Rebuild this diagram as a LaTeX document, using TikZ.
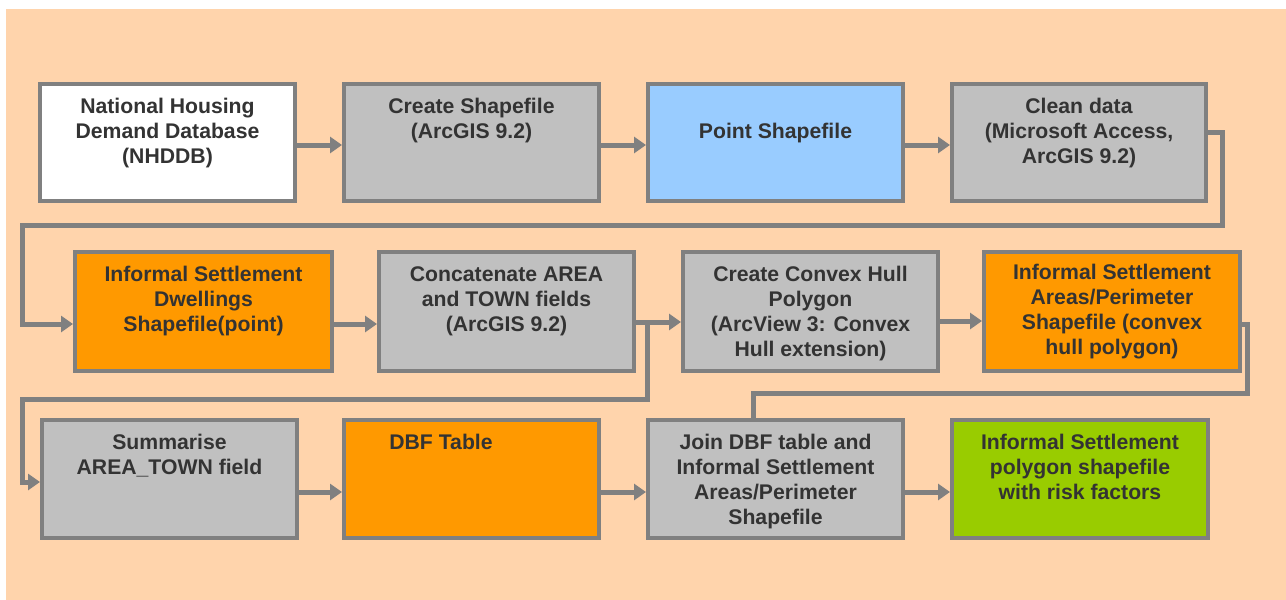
\documentclass[tikz,border=0pt]{standalone}
\usepackage{fontspec}
\setmainfont{Liberation Sans}
\usetikzlibrary{arrows.meta,calc}
\definecolor{bg}{HTML}{FFD4AC}
\definecolor{edge}{HTML}{808080}
\definecolor{gbox}{HTML}{C0C0C0}
\definecolor{bluebox}{HTML}{99CCFF}
\definecolor{orbox}{HTML}{FF9900}
\definecolor{grbox}{HTML}{99CC00}
\definecolor{txt}{HTML}{333333}
\begin{document}
\begin{tikzpicture}[x=0.5pt,y=-0.5pt,
 box/.style={draw=edge, line width=2pt, anchor=north west, inner sep=0pt, minimum width=127.5pt},
 r1/.style={minimum height=58.5pt},
 r2/.style={minimum height=59.5pt},
 r3/.style={minimum height=59pt},
 lbl/.style={anchor=north, align=center, text=txt, font=\bfseries\fontsize{10.6pt}{12.5pt}\selectfont, inner sep=0pt},
 conn/.style={draw=edge, line width=2.5pt},
 arr/.style={conn, -{Triangle[length=6pt,width=8pt]}}]
\fill[white] (0,0) rectangle (1286,600);
\fill[bg] (6,9) rectangle (1286,600);
\useasboundingbox (0,0) rectangle (1286,600);

% row 1
\node[box,r1,fill=white] (b1) at (38,82) {};
\node[box,r1,fill=gbox] (b2) at (342,82) {};
\node[box,r1,fill=bluebox] (b3) at (646,82) {};
\node[box,r1,fill=gbox,minimum width=127pt] (b4) at (950,82) {};
% row 2
\node[box,r2,fill=orbox,minimum width=128.5pt] (b5) at (73,250) {};
\node[box,r2,fill=gbox] (b6) at (377,250) {};
\node[box,r2,fill=gbox] (b7) at (681,250) {};
\node[box,r2,fill=orbox,minimum width=128pt] (b8) at (982,250) {};
% row 3
\node[box,r3,fill=gbox] (b9) at (40,418) {};
\node[box,r3,fill=orbox] (b10) at (342,418) {};
\node[box,r3,fill=gbox] (b11) at (646,418) {};
\node[box,r3,fill=grbox,minimum width=128pt] (b12) at (950,418) {};

% labels
\node[lbl] (t1) at ($(b1.north)+(0,16)$) {National Housing\\Demand Database\\(NHDDB)};
\node[lbl] (t2) at ($(b2.north)+(0,16)$) {Create Shapefile\\(ArcGIS 9.2)};
\node[lbl] (t3) at ($(b3.north)+(0,41)$) {Point Shapefile};
\node[lbl] (t4) at ($(b4.north)+(0,16)$) {Clean data\\(Microsoft Access,\\ArcGIS 9.2)};
\node[lbl] (t5) at ($(b5.north)+(0,16)$) {Informal Settlement\\Dwellings\\Shapefile(point)};
\node[lbl] (t6) at ($(b6.north)+(0,16)$) {Concatenate AREA\\and TOWN fields\\(ArcGIS 9.2)};
\node[lbl] (t7) at ($(b7.north)+(0,16)$) {Create Convex Hull\\Polygon\\(ArcView 3: Convex\\Hull extension)};
\node[lbl] (t8) at ($(b8.north)+(0,14)$) {Informal Settlement\\Areas/Perimeter\\Shapefile (convex\\hull polygon)};
\node[lbl] (t9) at ($(b9.north)+(0,16)$) {Summarise\\AREA\_TOWN field};
\node[lbl] (t10) at (441,434) {DBF Table};
\node[lbl] (t11) at ($(b11.north)+(0,16)$) {Join DBF table and\\Informal Settlement\\Areas/Perimeter\\Shapefile};
\node[lbl] (t12) at ($(b12.north)+(0,16)$) {Informal Settlement\\polygon shapefile\\with risk factors};

% row 1 arrows
\draw[arr] ($(b1.east)+(0,2.5)$) -- ($(b2.west)+(0,2.5)$);
\draw[arr] ($(b2.east)+(0,2.5)$) -- ($(b3.west)+(0,2.5)$);
\draw[arr] ($(b3.east)+(0,2.5)$) -- ($(b4.west)+(0,2.5)$);
% wrap b4 -> b5
\coordinate (k1) at (1222,225);
\coordinate (k2) at (22,225);
\draw[arr] ($(b4.east)+(0,-10.5)$) -| (k1) -- (k2) |- ($(b5.west)+(0,12.5)$);
% row 2 arrows
\draw[arr] ($(b5.east)+(0,12.5)$) -- ($(b6.west)+(0,12.5)$);
\draw[arr] ($(b6.east)+(0,10.5)$) -- ($(b7.west)+(0,10.5)$);
\draw[arr] ($(b7.east)+(0,9.5)$) -- ($(b8.west)+(0,9.5)$);
% branch b6 -> b9
\coordinate (j1) at (647,320);
\coordinate (k3) at (647,399);
\coordinate (k4) at (22,399);
\draw[arr] (j1) -- (k3) -- (k4) |- ($(b9.west)+(0,3)$);
% b8 -> b11
\coordinate (k5) at (1247,393);
\draw[conn] ($(b8.east)+(0,12.5)$) -| (k5) -| ($(b11.north)+(-22.5,0)$);
% row 3 arrows
\draw[arr] ($(b9.east)+(0,13)$) -- ($(b10.west)+(0,13)$);
\draw[arr] ($(b10.east)+(0,13)$) -- ($(b11.west)+(0,13)$);
\draw[arr] ($(b11.east)+(0,13)$) -- ($(b12.west)+(0,13)$);
\end{tikzpicture}
\end{document}
